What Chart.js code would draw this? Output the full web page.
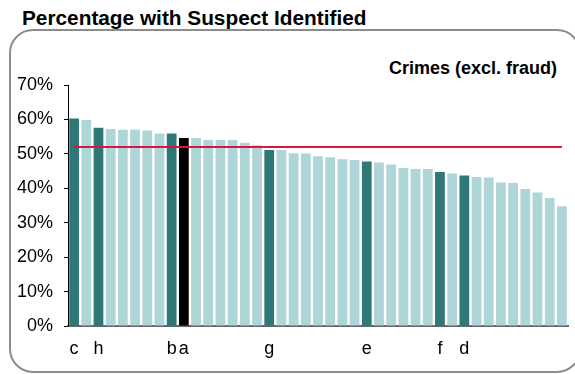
<!DOCTYPE html>
<html>
<head>
<meta charset="utf-8">
<script src="https://cdn.jsdelivr.net/npm/chart.js@4/dist/chart.umd.min.js"></script>
<style>
  html, body { margin: 0; padding: 0; background: #fff; }
  #wrap { position: relative; width: 575px; height: 374px; overflow: hidden; font-family: "Liberation Sans", Arial, sans-serif; }
  #box { position: absolute; left: 9px; top: 29px; width: 572px; height: 344px; box-sizing: border-box;
         border: 2px solid #8c8c8c; border-radius: 24px; }
  #title { position: absolute; left: 22px; top: 8px; font-weight: bold; font-size: 20px; line-height: 20px;
           color: #000; white-space: nowrap; transform-origin: 0 0; transform: scaleX(1.04); }
  #sub { position: absolute; right: 18px; top: 59px; font-weight: bold; font-size: 18px; line-height: 18px;
         color: #000; white-space: nowrap; }
  canvas { position: absolute; left: 0; top: 0; }
</style>
</head>
<body>
<div id="wrap">
  <div id="box"></div>
  <div id="title">Percentage with Suspect Identified</div>
  <div id="sub">Crimes (excl. fraud)</div>
  <canvas id="barchart" width="575" height="374"></canvas>
</div>
<script>
// 41 forces, sorted high to low; only a few are named
const labels = ['c', '', 'h', '', '', '', '', '', 'b', 'a', '', '', '', '', '', '', 'g', '', '', '', '',
                '', '', '', 'e', '', '', '', '', '', 'f', '', 'd', '', '', '', '', '', '', '', ''];
const values = [60.3, 59.8, 57.6, 57.2, 57.0, 57.0, 56.8, 55.9, 55.9, 54.6, 54.6, 54.0, 54.0, 54.0, 53.2,
                52.5, 51.1, 51.1, 50.2, 50.1, 49.3, 49.0, 48.4, 48.2, 47.8, 47.5, 46.9, 45.9, 45.6, 45.6,
                44.7, 44.3, 43.7, 43.3, 43.1, 41.7, 41.5, 39.8, 38.8, 37.2, 34.8];
const average = 52.0;
const yTicks = [0, 10, 20, 30, 40, 50, 60, 70];

const darkTeal = '#2f7878';
const lightTeal = '#aed5d8';
const colours = labels.map(l => l === 'a' ? '#000000' : (l !== '' ? darkTeal : lightTeal));

const ctx = document.getElementById('barchart').getContext('2d');
const myChart = new Chart(ctx, {
    type: 'bar',
    data: {
        labels: labels,
        datasets: [{
            type: 'line',
            label: 'Average',
            data: labels.map(() => average),
            borderColor: '#d8163f',
            borderWidth: 2,
            pointRadius: 0,
            order: 0
        }, {
            label: 'Percentage with suspect identified',
            data: values,
            backgroundColor: colours,
            categoryPercentage: 1,
            barPercentage: 0.8,
            order: 1
        }]
    },
    options: {
        responsive: false,
        animation: false,
        layout: { padding: { top: 85, right: 7, left: 0, bottom: 0 } },
        plugins: { legend: { display: false }, tooltip: { enabled: false } },
        scales: {
            x: {
                offset: true,
                grid: { display: false },
                border: { display: true, color: '#666666', width: 2 },
                ticks: {
                    autoSkip: false, maxRotation: 0, color: '#000',
                    font: { family: 'Liberation Sans', size: 18 }, padding: 4
                },
                afterFit: s => { s.height = 48; }
            },
            y: {
                min: 0, max: 70,
                afterBuildTicks: s => { s.ticks = yTicks.map(v => ({ value: v })); },
                grid: { display: true, drawOnChartArea: false, drawTicks: true, tickLength: 4, color: '#000' },
                border: { display: true, color: '#000', width: 1 },
                ticks: {
                    color: '#000', padding: 11,
                    font: { family: 'Liberation Sans', size: 18 },
                    callback: v => v + '%'
                },
                afterFit: s => { s.width = 68; }
            }
        }
    }
});
</script>
</body>
</html>
